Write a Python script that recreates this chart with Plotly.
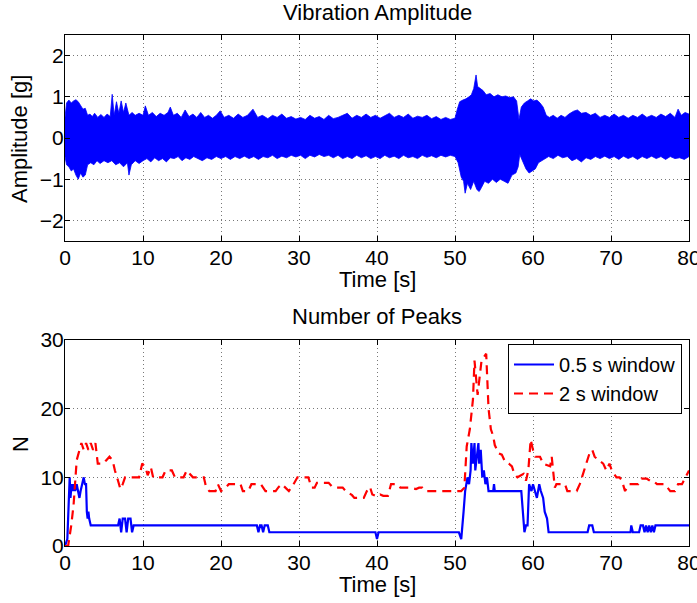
import plotly.graph_objects as go
from plotly.subplots import make_subplots

# ---------------- data: vibration amplitude envelope ----------------
upper_t = [0, 0.2, 0.5, 0.8, 1.1, 1.4, 1.7, 2.0, 2.3, 2.6, 2.9, 3.2, 3.5, 3.8, 4.2, 4.6, 5.0, 5.4, 5.8,
           6.05, 6.3, 6.6, 6.9, 7.2, 7.5, 7.8, 8.2, 8.6, 9.0, 9.5, 10.0, 10.3, 10.7, 11.2, 11.7, 12.2,
           12.7, 13.2, 13.5, 13.9, 14.4, 14.9, 15.4, 15.9, 16.4, 16.9, 17.4, 17.9, 18.4, 18.9, 19.4,
           19.9, 20.4, 21.0, 21.6, 22.2, 22.8, 23.4, 24.1, 24.7, 25.3, 26.0, 26.6, 27.2, 27.8, 28.4,
           29.0, 29.6, 30.2, 30.8, 31.4, 32.0, 32.6, 33.2, 33.8, 34.4, 35.0, 35.6, 36.2, 36.8, 37.4,
           38.0, 38.6, 39.2, 39.8, 40.4, 41.0, 41.6, 42.2, 42.8, 43.4, 44.0, 44.6, 45.2, 45.8, 46.4,
           47.0, 47.6, 48.2, 48.8, 49.4, 50.0, 50.3, 50.6, 51.0, 51.4, 51.8, 52.1, 52.4, 52.7, 52.9,
           53.2, 53.6, 54.0, 54.5, 55.0, 55.5, 56.0, 56.5, 57.0, 57.5, 57.9, 58.2, 58.5, 58.9, 59.3,
           59.7, 60.1, 60.5, 60.9, 61.3, 61.7, 62.1, 62.6, 63.1, 63.6, 64.1, 64.6, 65.2, 65.7, 66.2,
           66.8, 67.4, 68.0, 68.6, 69.2, 69.8, 70.4, 71.0, 71.6, 72.2, 72.8, 73.4, 74.0, 74.6, 75.2,
           75.8, 76.4, 77.0, 77.6, 78.2, 78.6, 79.0, 79.5, 80.0]
upper_v = [0.5, 0.85, 0.92, 0.85, 0.9, 0.93, 0.88, 0.78, 0.7, 0.72, 0.55, 0.58, 0.52, 0.6, 0.5, 0.57, 0.5, 0.58, 0.52,
           1.06, 0.55, 0.88, 0.6, 0.9, 0.62, 0.85, 0.55, 0.62, 0.55, 0.6, 0.55, 0.78, 0.55, 0.62, 0.52, 0.6,
           0.55, 0.62, 0.75, 0.55, 0.6, 0.5, 0.68, 0.52, 0.58, 0.5, 0.62, 0.5, 0.55, 0.48, 0.55,
           0.66, 0.5, 0.55, 0.48, 0.58, 0.5, 0.55, 0.7, 0.5, 0.55, 0.47, 0.55, 0.5, 0.58, 0.48,
           0.52, 0.46, 0.5, 0.45, 0.55, 0.48, 0.52, 0.45, 0.55, 0.47, 0.5, 0.55, 0.6, 0.48, 0.55,
           0.5, 0.58, 0.5, 0.55, 0.48, 0.55, 0.6, 0.5, 0.55, 0.5, 0.58, 0.48, 0.53, 0.5, 0.55,
           0.47, 0.52, 0.45, 0.5, 0.45, 0.48, 0.7, 0.88, 0.92, 0.95, 1.0, 1.05, 1.2, 1.53, 1.25,
           1.2, 1.15, 1.05, 1.08, 1.0, 1.05, 1.0, 1.02, 0.98, 1.0, 0.9, 0.45, 0.75, 0.85, 0.9,
           0.95, 0.9, 0.92, 0.85, 0.75, 0.55, 0.5, 0.55, 0.48, 0.55, 0.5, 0.58, 0.65, 0.68, 0.6,
           0.62, 0.55, 0.6, 0.5, 0.55, 0.5, 0.58, 0.5, 0.55, 0.48, 0.55, 0.5, 0.58, 0.5, 0.55,
           0.5, 0.58, 0.52, 0.6, 0.5, 0.7, 0.55, 0.62, 0.58]

lower_t = [0, 0.2, 0.5, 0.8, 1.1, 1.4, 1.7, 2.0, 2.3, 2.6, 2.9, 3.3, 3.7, 4.1, 4.5, 5.0, 5.5, 6.0, 6.5,
           7.0, 7.5, 8.0, 8.2, 8.5, 9.0, 9.5, 10.0, 10.5, 11.0, 11.5, 12.0, 12.5, 13.0, 13.5, 14.0,
           14.5, 15.0, 15.5, 16.0, 16.5, 17.0, 17.6, 18.2, 18.8, 19.4, 20.0, 20.6, 21.2, 21.8, 22.4,
           23.0, 23.6, 24.2, 24.8, 25.4, 26.0, 26.6, 27.2, 27.8, 28.4, 29.0, 29.6, 30.2, 30.8, 31.4,
           32.0, 32.6, 33.2, 33.8, 34.4, 35.0, 35.6, 36.2, 36.8, 37.4, 38.0, 38.6, 39.2, 39.8, 40.4,
           41.0, 41.6, 42.2, 42.8, 43.4, 44.0, 44.6, 45.2, 45.8, 46.4, 47.0, 47.6, 48.2, 48.8, 49.4,
           50.0, 50.4, 50.8, 51.1, 51.3, 51.6, 52.0, 52.4, 52.8, 53.1, 53.4, 53.8, 54.3, 54.8, 55.3,
           55.8, 56.3, 56.8, 57.3, 57.8, 58.1, 58.3, 58.7, 59.1, 59.5, 59.9, 60.3, 60.7, 61.1, 61.5,
           62.0, 62.6, 63.2, 63.8, 64.4, 65.0, 65.6, 66.2, 66.8, 67.4, 68.0, 68.6, 69.2, 69.8, 70.4,
           71.0, 71.6, 72.2, 72.8, 73.4, 74.0, 74.6, 75.2, 75.8, 76.4, 77.0, 77.6, 78.2, 78.8, 79.4, 80.0]
lower_v = [-0.45, -0.65, -0.7, -0.8, -0.75, -0.9, -1.0, -0.85, -0.95, -0.9, -0.65, -0.6, -0.65, -0.55, -0.62, -0.55, -0.6, -0.55, -0.65,
           -0.6, -0.7, -0.6, -0.9, -0.65, -0.55, -0.62, -0.55, -0.5, -0.58, -0.48, -0.55, -0.5, -0.58, -0.48, -0.5,
           -0.45, -0.55, -0.48, -0.52, -0.45, -0.5, -0.55, -0.48, -0.52, -0.45, -0.5, -0.45, -0.52, -0.45, -0.5,
           -0.44, -0.5, -0.45, -0.52, -0.45, -0.48, -0.42, -0.5, -0.44, -0.48, -0.42, -0.46, -0.42, -0.5, -0.42,
           -0.46, -0.4, -0.45, -0.42, -0.48, -0.42, -0.5, -0.45, -0.5, -0.42, -0.48, -0.43, -0.5, -0.45, -0.5,
           -0.42, -0.48, -0.44, -0.5, -0.42, -0.48, -0.45, -0.5, -0.42, -0.47, -0.43, -0.48, -0.42, -0.46, -0.42,
           -0.45, -0.6, -0.95, -1.05, -1.34, -1.1, -1.25, -1.05, -1.25, -1.3, -1.2, -1.05, -1.1, -1.0, -1.08,
           -1.0, -1.05, -1.1, -0.9, -0.85, -0.7, -0.4, -0.55, -0.75, -0.85, -0.8, -0.75, -0.6, -0.55, -0.5,
           -0.45, -0.5, -0.42, -0.48, -0.45, -0.55, -0.5, -0.58, -0.48, -0.52, -0.45, -0.5, -0.44, -0.5, -0.45,
           -0.52, -0.44, -0.5, -0.45, -0.52, -0.45, -0.5, -0.44, -0.5, -0.45, -0.52, -0.45, -0.5, -0.48, -0.52, -0.45]

# ---------------- data: number of peaks ----------------
peaks05_t = [0, 0.3, 0.6, 0.7, 0.85, 1.0, 1.15, 1.3, 1.5, 1.7, 1.85, 2.0, 2.2, 2.4, 2.55, 2.7, 2.8, 2.9, 3.0, 3.1, 3.3,
             6.8, 7.0, 7.2, 7.4, 7.7, 7.9, 8.1, 8.4, 8.6, 8.8,
             24.6, 24.8, 25.0, 25.2, 25.4, 25.6, 26.0, 26.2,
             39.8, 40.0, 40.2,
             50.5, 50.8, 51.1, 51.3, 51.6, 51.8, 52.0, 52.1, 52.3, 52.5, 52.6, 52.8, 53.0, 53.1, 53.3, 53.5, 53.7,
             53.9, 54.1, 54.3, 54.9, 55.0, 55.1,
             58.5, 58.7, 58.9, 59.1, 59.3, 59.5, 59.8, 60.0, 60.3, 60.5, 60.8, 61.0, 61.3, 61.5, 61.8, 62.0,
             67.0, 67.2, 67.6, 67.8,
             72.5, 72.6, 72.8, 73.6, 73.8, 74.1, 74.3, 74.5, 74.7, 74.9, 75.1, 75.3, 75.5, 75.7, 80.0]
peaks05_n = [0, 1, 10, 7, 9, 8, 9, 8, 9, 8, 7, 8, 9, 10, 9, 9, 5, 4, 5, 4, 3,
             3, 4, 2, 4, 4, 2, 4, 4, 2, 3,
             3, 2, 3, 3, 2, 3, 3, 2,
             2, 1, 2,
             2, 1, 5, 8, 10, 9, 11, 15, 12, 15, 11, 13, 15, 12, 14, 10, 11,
             9, 10, 8, 8, 9, 8,
             8, 5, 2, 3, 3, 9, 8, 9, 8, 7, 9, 8, 7, 5, 4, 2,
             2, 3, 3, 2,
             2, 3, 2, 2, 3, 3, 2, 3, 2, 3, 2, 3, 2, 3, 3]

peaks2_t = [0, 0.4, 0.8, 1.1, 1.5, 1.9, 2.1, 2.4, 2.7, 3.0, 3.3, 3.6, 3.9, 4.2, 4.6, 4.9, 5.3, 5.7, 6.1, 6.4,
            6.8, 7.1, 7.4, 7.7, 8.2, 9.0, 9.5, 9.9, 10.3, 10.6, 11.0, 11.3, 12.5, 12.9, 13.7, 14.1, 15.2,
            15.6, 16.0, 16.4, 17.8, 18.1, 18.5, 19.3, 19.6, 20.0, 20.6, 21.0, 21.6, 22.5, 22.8, 23.5, 23.9,
            25.1, 25.4, 25.7, 27.0, 27.4, 27.8, 28.2, 28.7, 29.3, 29.8, 30.2, 31.2, 31.6, 32.0, 32.3, 33.8,
            34.2, 34.6, 35.6, 36.0, 36.8, 37.1, 38.3, 38.7, 39.1, 39.4, 40.0, 40.4, 40.8, 41.4, 41.8, 42.6,
            43.0, 44.2, 45.0, 45.4, 45.8, 46.2, 48.2, 50.3, 50.8, 51.2, 51.5, 51.9, 52.1, 52.3, 52.5, 52.7,
            52.9, 53.1, 53.4, 53.7, 54.0, 54.3, 54.6, 54.9, 55.1, 55.6, 56.0, 56.4, 56.9, 57.3, 57.6, 58.0,
            58.4, 58.8, 59.1, 59.4, 59.7, 60.0, 60.3, 60.9, 61.3, 62.2, 62.4, 62.6, 62.8, 63.0, 64.1, 64.4,
            65.6, 66.0, 66.4, 66.9, 67.3, 67.6, 67.9, 68.4, 69.0, 69.4, 69.8, 70.1, 70.7, 71.1, 71.4, 71.8,
            72.3, 73.5, 73.9, 74.6, 75.0, 75.4, 75.9, 76.9, 77.3, 77.6, 78.2, 78.6, 79.1, 79.5, 80.0]
peaks2_n = [0, 0, 3, 6, 12.5, 14, 15, 14, 15, 14, 15, 14, 15, 12, 12, 12, 12.5, 13, 12.5, 11,
            9.5, 8.3, 9, 10, 10, 10, 10, 12, 11.5, 10.3, 11.5, 10, 10, 11, 11, 10, 10,
            11, 10.5, 10, 10, 8.5, 8, 8, 9, 8, 8.5, 9, 9, 9, 8, 8, 9,
            9, 8.5, 8, 8, 8.6, 9, 8.5, 8, 9, 10, 10, 10, 8.5, 8.5, 9.2, 9.2,
            8.7, 8.5, 8.5, 8, 7.4, 7, 7, 8, 8.6, 7.5, 7.2, 7.5, 7.3, 7.3, 9, 9,
            8.5, 8.5, 8.3, 8.5, 8.5, 8, 8, 8, 8, 8.5, 14.5, 17, 19, 21.3, 27, 24,
            22, 24, 27, 27.5, 28, 20, 17, 16, 14.7, 13.5, 13.3, 12.3, 12, 11.6, 10.5, 10,
            10.2, 10.5, 9.5, 11, 15.5, 14, 13, 13, 12, 11.6, 13, 11, 8.5, 9, 9, 8,
            8, 9, 10.5, 12, 13.7, 14, 13, 12.5, 12, 11, 12, 11, 10, 10, 9.5, 8,
            9, 9, 9.8, 9.8, 9.5, 9.5, 9, 9, 8.5, 8, 8, 9, 9, 10, 11]

x_ticks = [0, 10, 20, 30, 40, 50, 60, 70, 80]
amp_ticks = [-2, -1, 0, 1, 2]
n_ticks = [0, 10, 20, 30]

FONT = "Liberation Sans, Arial, Helvetica, sans-serif"
tick_font = dict(family=FONT, size=21, color="black")
label_font = dict(family=FONT, size=22, color="black")
legend_font = dict(family=FONT, size=20, color="black")

fig = make_subplots(rows=2, cols=1, vertical_spacing=99 / 511)

env_x = upper_t + lower_t[::-1]
env_y = upper_v + lower_v[::-1]
fig.add_trace(go.Scatter(x=env_x, y=env_y, mode="lines", fill="toself",
                         fillcolor="rgb(0,0,255)", line=dict(color="rgb(0,0,255)", width=0.8),
                         showlegend=False, hoverinfo="skip"), row=1, col=1)

fig.add_trace(go.Scatter(x=peaks05_t, y=peaks05_n, mode="lines", name="0.5 s window",
                         line=dict(color="rgb(0,0,255)", width=2.2)), row=2, col=1)
fig.add_trace(go.Scatter(x=peaks2_t, y=peaks2_n, mode="lines", name="2 s window",
                         line=dict(color="rgb(255,0,0)", width=2.2, dash="9px,6px")), row=2, col=1)

axis_common = dict(showline=True, linecolor="black", linewidth=1, mirror="ticks",
                   ticks="inside", ticklen=5, tickcolor="black", automargin=False,
                   showgrid=True, gridcolor="rgb(120,120,120)", gridwidth=1, griddash="1px,3px",
                   zeroline=False, tickfont=tick_font, ticklabeloverflow="allow")

fig.update_xaxes(range=[0, 80], tickvals=x_ticks, ticklabelstandoff=-2, **axis_common)
fig.update_yaxes(ticklabelstandoff=-4, **axis_common)
fig.update_yaxes(range=[-2.5, 2.5], tickvals=amp_ticks, row=1, col=1)
fig.update_yaxes(range=[0, 30], tickvals=n_ticks, row=2, col=1)

# titles and axis labels (paper coords; plot area spans 624 x 511 px)
def px(x):
    return (x - 65) / 624

def py(y):
    return (546 - y) / 511

texts = [
    ("Vibration Amplitude", 377, 13, 0),
    ("Number of Peaks", 377, 316, 0),
    ("Time [s]", 377, 279, 0),
    ("Time [s]", 377, 584, 0),
    ("Amplitude [g]", 19, 139, -90),
    ("N", 20, 444, -90),
]
for t, x, y, ang in texts:
    fig.add_annotation(text=t, xref="paper", yref="paper", x=px(x), y=py(y),
                       xanchor="center", yanchor="middle", textangle=ang,
                       showarrow=False, font=label_font)

fig.update_layout(
    width=697, height=603,
    margin=dict(l=65, r=8, t=35, b=57),
    paper_bgcolor="white", plot_bgcolor="white",
    font=tick_font,
    legend=dict(x=px(682), y=py(344), xanchor="right", yanchor="top",
                bgcolor="white", bordercolor="black", borderwidth=1,
                font=legend_font, tracegroupgap=0, itemwidth=40),
)

fig.write_html("out.html", config={"displayModeBar": False},
               post_script="document.body.style.margin='0px';")
